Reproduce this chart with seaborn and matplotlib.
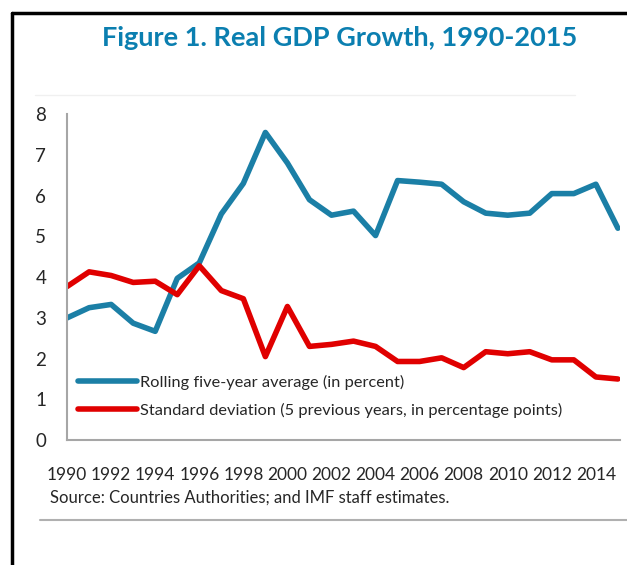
import numpy as np
import pandas as pd
import matplotlib
matplotlib.use("Agg")
import matplotlib.pyplot as plt
import seaborn as sns
from matplotlib.lines import Line2D

years = list(range(1990, 2016))
rolling_avg = [3.0, 3.25, 3.33, 2.87, 2.67, 3.97, 4.35, 5.55, 6.3, 7.55, 6.8, 5.9, 5.52,
               5.62, 5.02, 6.37, 6.33, 6.28, 5.85, 5.57, 5.52, 5.57, 6.05, 6.05, 6.28, 5.2]
std_dev = [3.77, 4.13, 4.04, 3.87, 3.9, 3.57, 4.28, 3.67, 3.47, 2.05, 3.28, 2.3, 2.35,
           2.43, 2.3, 1.93, 1.93, 2.02, 1.78, 2.17, 2.12, 2.17, 1.97, 1.97, 1.55, 1.5]
labels = ["Rolling five-year average (in percent)",
          "Standard deviation (5 previous years, in percentage points)"]
colors = ["#1b7fa6", "#e00000"]

df = pd.DataFrame({"year": years, labels[0]: rolling_avg, labels[1]: std_dev})
long_df = df.melt(id_vars="year", var_name="series", value_name="value")

sns.set_style("white")
plt.rcParams["font.family"] = ["Lato", "DejaVu Sans"]

fig = plt.figure(figsize=(6.27, 5.65), dpi=100)
ax = fig.add_axes([0.107, 0.221, 0.882, 0.577])

sns.lineplot(data=long_df, x="year", y="value", hue="series", palette=colors,
             linewidth=4, ax=ax, legend=False)

ax.set_xlim(1990, 2015.1)
ax.set_ylim(0, 8)
ax.set_xticks(years)
ax.set_xticklabels([str(y) if y % 2 == 0 else "" for y in years])
ax.set_yticks(range(9))
ax.set_xlabel("")
ax.set_ylabel("")
ax.tick_params(axis="both", length=6, width=1.2, color="#a6a6a6",
               labelcolor="#262626", direction="out")
ax.tick_params(axis="x", pad=13, labelsize=12.5)
ax.tick_params(axis="y", pad=9, labelsize=13.5)
for s in ["top", "right"]:
    ax.spines[s].set_visible(False)
for s in ["left", "bottom"]:
    ax.spines[s].set_color("#a6a6a6")
    ax.spines[s].set_linewidth(1.5)

handles = [Line2D([0], [0], color=c, lw=4) for c in colors]
ax.legend(handles, labels, loc="center left", bbox_to_anchor=(0.02, 0.135),
          frameon=False, fontsize=11.8, handlelength=3.6, handletextpad=0.15,
          labelspacing=0.8, borderaxespad=0, borderpad=0)

fig.text(0.541, 0.933, "Figure 1. Real GDP Growth, 1990-2015", ha="center",
         va="center", fontsize=19.5, fontweight="bold", color="#0b7fb0")
fig.text(0.08, 0.12, "Source: Countries Authorities; and IMF staff estimates.",
         fontsize=12, color="#262626", va="center")

# frame lines around figure
fig.add_artist(Line2D([12 / 627, 12 / 627], [0, 1 - 13 / 565], color="black",
                      lw=2.5, transform=fig.transFigure))
fig.add_artist(Line2D([12 / 627, 1], [1 - 13 / 565, 1 - 13 / 565], color="black",
                      lw=2.5, transform=fig.transFigure))
fig.add_artist(Line2D([35 / 627, 575 / 627], [1 - 95 / 565, 1 - 95 / 565], color="#f0f0f0",
                      lw=1, transform=fig.transFigure))
fig.add_artist(Line2D([40 / 627, 1], [1 - 520 / 565, 1 - 520 / 565], color="#b0b0b0",
                      lw=1.5, transform=fig.transFigure))

fig.savefig("out.png", dpi=100)
